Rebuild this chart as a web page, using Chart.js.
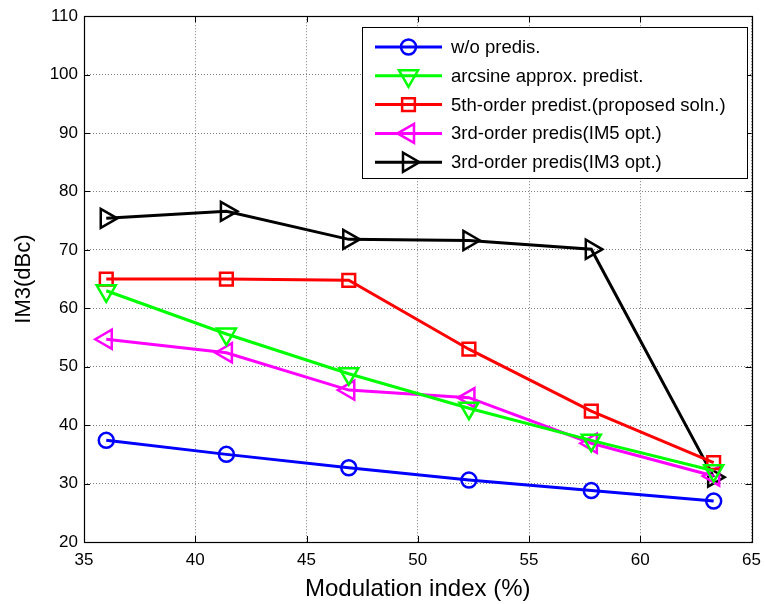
<!DOCTYPE html>
<html>
<head>
<meta charset="utf-8">
<script src="https://cdn.jsdelivr.net/npm/chart.js@4/dist/chart.umd.min.js"></script>
<style>
  body { margin: 0; background: #fff; }
  #wrap { width: 765px; height: 604px; position: relative; }
</style>
</head>
<body>
<div id="wrap"><canvas id="im3Chart"></canvas></div>
<script>
// ---- data ----
const modIndex = [36.0, 41.4, 46.9, 52.3, 57.8, 63.3];
const woPredis = [37.4, 35.0, 32.7, 30.6, 28.8, 27.0];
const arcsine = [63.0, 55.6, 48.8, 42.9, 37.4, 32.2];
const fifthOrder = [65.0, 65.0, 64.8, 53.0, 42.4, 33.6];
const thirdIM5 = [54.7, 52.4, 46.0, 44.7, 36.9, 31.3];
const thirdIM3 = [75.4, 76.6, 71.8, 71.6, 70.1, 31.1];
const xTicks = [35, 40, 45, 50, 55, 60, 65];
const yTicks = [20, 30, 40, 50, 60, 70, 80, 90, 100, 110];

const FONT = 'Liberation Sans, Arial, Helvetica, sans-serif';
const GRID = 'rgba(0,0,0,0.5)';

function pts(ys) { return modIndex.map((x, i) => ({ x: x, y: ys[i] })); }

function series(label, ys, color, style, radius, rot) {
  return {
    label: label,
    data: pts(ys),
    borderColor: color,
    borderWidth: 3,
    pointStyle: style,
    pointRadius: radius,
    pointHoverRadius: radius,
    pointRotation: rot,
    pointBorderColor: color,
    pointBackgroundColor: 'rgba(0,0,0,0)',
    pointBorderWidth: 2.5,
    tension: 0
  };
}

// marker used in the legend (same shapes as chart points)
function marker(ctx, style, r, rot, x, y) {
  ctx.beginPath();
  if (style === 'circle') {
    ctx.arc(x, y, r, 0, Math.PI * 2);
  } else if (style === 'rect') {
    const s = r * Math.SQRT1_2;
    ctx.rect(x - s, y - s, 2 * s, 2 * s);
  } else {
    let a = rot * Math.PI / 180;
    for (let k = 0; k < 3; k++) {
      const px = x + Math.sin(a) * r, py = y - Math.cos(a) * r;
      k === 0 ? ctx.moveTo(px, py) : ctx.lineTo(px, py);
      a += 2 * Math.PI / 3;
    }
    ctx.closePath();
  }
  ctx.stroke();
}

// box around the axes + inward ticks (matlab look)
const framePlugin = {
  id: 'frame',
  beforeDatasetsDraw(chart) {
    const { ctx, chartArea: a, scales } = chart;
    ctx.save();
    ctx.strokeStyle = '#000';
    ctx.lineWidth = 1;
    ctx.beginPath();
    xTicks.forEach(v => {
      const px = Math.round(scales.x.getPixelForValue(v)) + 0.5;
      ctx.moveTo(px, a.bottom); ctx.lineTo(px, a.bottom - 6);
      ctx.moveTo(px, a.top); ctx.lineTo(px, a.top + 6);
    });
    yTicks.forEach(v => {
      const py = Math.round(scales.y.getPixelForValue(v)) + 0.5;
      ctx.moveTo(a.left, py); ctx.lineTo(a.left + 6, py);
      ctx.moveTo(a.right, py); ctx.lineTo(a.right - 6, py);
    });
    ctx.stroke();
    ctx.lineWidth = 1.2;
    ctx.strokeRect(Math.round(a.left) + 0.5, Math.round(a.top) + 0.5,
      Math.round(a.right - a.left), Math.round(a.bottom - a.top));
    ctx.restore();
  }
};

// legend box in the upper right corner
const legendPlugin = {
  id: 'boxLegend',
  afterDraw(chart) {
    const ctx = chart.ctx;
    const box = { x: 362, y: 27, w: 385, h: 151 };
    ctx.save();
    ctx.fillStyle = '#fff';
    ctx.fillRect(box.x, box.y, box.w, box.h);
    ctx.strokeStyle = '#000';
    ctx.lineWidth = 1;
    ctx.strokeRect(box.x + 0.5, box.y + 0.5, box.w, box.h);
    ctx.font = '18.5px ' + FONT;
    ctx.textBaseline = 'middle';
    chart.data.datasets.forEach((ds, i) => {
      const y = 47 + i * 28.8;
      ctx.strokeStyle = ds.borderColor;
      ctx.lineWidth = 3;
      ctx.beginPath();
      ctx.moveTo(375, y); ctx.lineTo(442, y);
      ctx.stroke();
      ctx.lineWidth = 2.5;
      marker(ctx, ds.pointStyle, ds.pointRadius, ds.pointRotation, 408.5, y);
      ctx.fillStyle = '#000';
      ctx.fillText(ds.label, 451, y + 1);
    });
    ctx.restore();
  }
};

new Chart(document.getElementById('im3Chart'), {
  type: 'line',
  data: {
    datasets: [
      series('w/o predis.', woPredis, '#0000ff', 'circle', 7.5, 0),
      series('arcsine approx. predist.', arcsine, '#00ff00', 'triangle', 11, 180),
      series('5th-order predist.(proposed soln.)', fifthOrder, '#ff0000', 'rect', 9, 0),
      series('3rd-order predis(IM5 opt.)', thirdIM5, '#ff00ff', 'triangle', 11, 270),
      series('3rd-order predis(IM3 opt.)', thirdIM3, '#000000', 'triangle', 11, 90)
    ]
  },
  options: {
    responsive: true,
    maintainAspectRatio: false,
    animation: false,
    clip: false,
    layout: { padding: { top: 16, right: 12, left: 0, bottom: 0 } },
    plugins: { legend: { display: false }, tooltip: { enabled: false } },
    scales: {
      x: {
        type: 'linear',
        min: 35, max: 65,
        afterBuildTicks: s => { s.ticks = xTicks.map(v => ({ value: v })); },
        afterFit: s => { s.height = 62; s.paddingRight = 12; s.paddingLeft = 0; },
        grid: { color: GRID, lineWidth: 1, drawTicks: false },
        border: { display: false, dash: [1, 2] },
        ticks: { color: '#000', font: { family: FONT, size: 17 }, padding: 8, maxRotation: 0 },
        title: { display: true, text: 'Modulation index (%)', color: '#000',
          font: { family: FONT, size: 24 }, padding: { top: 0, bottom: 0 } }
      },
      y: {
        min: 20, max: 110,
        afterBuildTicks: s => { s.ticks = yTicks.map(v => ({ value: v })); },
        afterFit: s => { s.width = 84; },
        grid: { color: GRID, lineWidth: 1, drawTicks: false },
        border: { display: false, dash: [1, 2] },
        ticks: { color: '#000', font: { family: FONT, size: 17 }, padding: 6 },
        title: { display: true, text: 'IM3(dBc)', color: '#000',
          font: { family: FONT, size: 22 }, padding: { top: 11, bottom: 0 } }
      }
    }
  },
  plugins: [framePlugin, legendPlugin]
});
</script>
</body>
</html>
